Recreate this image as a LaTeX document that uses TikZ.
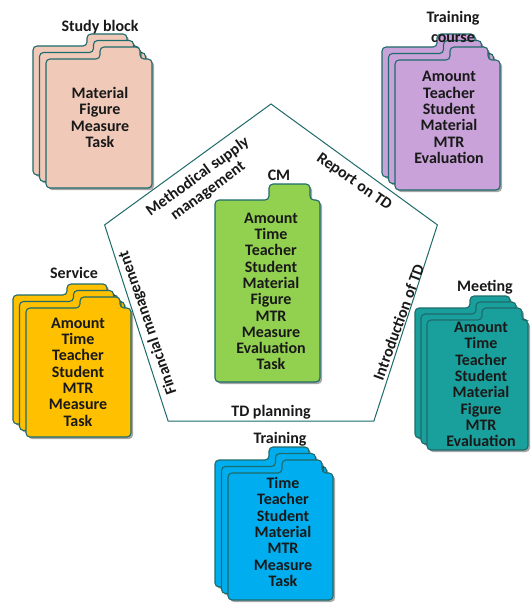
\documentclass[tikz,border=0pt]{standalone}
\usepackage{fontspec}
\setmainfont{Carlito}
\usetikzlibrary{shadows}
\definecolor{edgeteal}{HTML}{1E6B6B}
\definecolor{cpink}{HTML}{F0C9B9}
\definecolor{cpurple}{HTML}{C8A2D8}
\definecolor{cgreen}{HTML}{92D050}
\definecolor{corange}{HTML}{FFC000}
\definecolor{cteal}{HTML}{19A09C}
\definecolor{cblue}{HTML}{00AEEF}
\tikzset{
  folder/.style={draw=edgeteal, line width=1.1pt, rounded corners=4pt,
    drop shadow={shadow xshift=2pt, shadow yshift=-2pt, opacity=0.35, fill=black}},
  txt/.style={font=\fontsize{16}{16.3}\selectfont\bfseries, align=center, inner sep=0pt, text=black!90},
  lbl/.style={font=\fontsize{16}{20}\selectfont\bfseries, align=center, inner sep=0pt, text=black!90},
  edgelbl/.style={font=\fontsize{16}{17.5}\selectfont\bfseries, align=center, inner sep=0pt, text=black!90},
}
% #1 fill, #2 x0, #3 y0 (body top), #4 x1, #5 y1 (bottom), #6 tab left, #7 tab right, #8 tab top
\newcommand\onefolder[8]{%
  \path[folder, fill=#1] (#2,#5) -- (#2,#3) -- (#6,#3) -- (#6,#8) -- (#7,#8) -- (#7,#3) -- (#4,#3) -- (#4,#5) -- cycle;}
\newcommand\folderstack[9]{%
  \foreach \k in {2,1,0}{%
    \begin{scope}[shift={(-\k*#9,-\k*#9)}]
      \onefolder{#1}{#2}{#3}{#4}{#5}{#6}{#7}{#8}
    \end{scope}}}
\begin{document}
\begin{tikzpicture}[x=1pt,y=-1pt]
\fill[white] (0,0) rectangle (531,604);
\useasboundingbox (0,0) rectangle (531,604);

% pentagon
\coordinate (pT) at (271,104);
\coordinate (pUR) at (437.4,224.9);
\coordinate (pLR) at (373.9,421);
\coordinate (pLL) at (168.1,421);
\coordinate (pUL) at (104.6,224.9);
\draw[edgeteal, line width=1pt] (pT) -- (pUR) -- (pLR) -- (pLL) -- (pUL) -- cycle;

% edge labels
\node[edgelbl, rotate=36] (lmeth) at (203,184) {Methodical supply\\management};
\node[edgelbl, rotate=-35] (lrep) at (354,182) {Report on TD};
\node[edgelbl, rotate=70] (lintro) at (398.5,322) {Introduction of TD};
\node[edgelbl, rotate=109] (lfin) at (148,323) {Financial management};
\node[edgelbl] (lplan) at (271,412) {TD planning};

% CM folder
\onefolder{cgreen}{215}{200}{320}{382}{269}{310}{184}
\node[lbl] (lcm) at (279,175) {CM};
\node[txt] (tcm) at (271,291.5) {Amount\\Time\\Teacher\\Student\\Material\\Figure\\MTR\\Measure\\Evaluation\\Task};

% Study block
\folderstack{cpink}{46}{59}{152}{188}{100}{140}{47}{6.5}
\node[lbl] (lstudy) at (100,27) {Study block};
\node[txt] (tstudy) at (100,117.5) {Material\\Figure\\Measure\\Task};

% Training course
\folderstack{cpurple}{395}{60}{500}{190}{450}{488}{47}{6.5}
\node[lbl] (lcourse) at (453,26.5) {Training\\course};
\node[txt] (tcourse) at (449,117.5) {Amount\\Teacher\\Student\\Material\\MTR\\Evaluation};

% Service
\folderstack{corange}{26}{308}{131}{437}{80}{120}{297}{6.5}
\node[lbl] (lservice) at (74,273) {Service};
\node[txt] (tservice) at (78,372) {Amount\\Time\\Teacher\\Student\\MTR\\Measure\\Task};

% Meeting
\folderstack{cteal}{427}{320}{528}{450}{482}{522}{308}{6}
\node[lbl] (lmeet) at (485,287) {Meeting};
\node[txt] (tmeet) at (481,384.5) {Amount\\Time\\Teacher\\Student\\Material\\Figure\\MTR\\Evaluation};

% Training
\folderstack{cblue}{228}{473}{333}{600}{282}{322}{460}{6.5}
\node[lbl] (ltrain) at (280,439) {Training};
\node[txt] (ttrain) at (283,532) {Time\\Teacher\\Student\\Material\\MTR\\Measure\\Task};
\end{tikzpicture}
\end{document}
